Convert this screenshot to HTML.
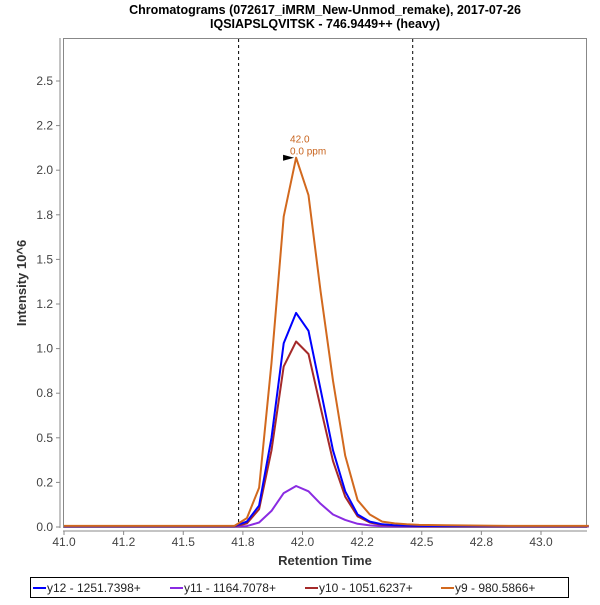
<!DOCTYPE html>
<html><head><meta charset="utf-8"><style>
body{margin:0;background:#fff;}
svg{font-family:"Liberation Sans","DejaVu Sans",sans-serif;}
</style></head><body>
<svg id="chart" width="600" height="600" xmlns="http://www.w3.org/2000/svg">
<rect width="600" height="600" fill="#fff"/>
<text x="325" y="14" text-anchor="middle" font-size="12.5" font-weight="bold">Chromatograms (072617_iMRM_New-Unmod_remake), 2017-07-26</text>
<text x="325" y="28" text-anchor="middle" font-size="12.5" font-weight="bold">IQSIAPSLQVITSK - 746.9449++ (heavy)</text>
<rect x="63.5" y="38.5" width="523" height="489" fill="#fff" stroke="#888" stroke-width="1"/>
<line x1="60" y1="38" x2="60" y2="528" stroke="#888"/>
<line x1="63" y1="531" x2="587" y2="531" stroke="#888"/>
<g id="yticks"></g><g id="xticks"></g>
<g id="markers"></g>
<g id="series"></g>
<text x="325" y="565" text-anchor="middle" font-size="13" font-weight="bold" fill="#333">Retention Time</text>
<text transform="translate(26,283) rotate(-90)" text-anchor="middle" font-size="13" font-weight="bold" fill="#333">Intensity 10^6</text>
<g>
<rect x="30.5" y="577.5" width="538" height="20" fill="#fff" stroke="#000"/>
<line x1="33" y1="588" x2="46" y2="588" stroke="#0000ff" stroke-width="2"/>
<text x="47" y="592" font-size="12" fill="#222">y12 - 1251.7398+</text>
<line x1="170" y1="588" x2="183" y2="588" stroke="#8a2be2" stroke-width="2"/>
<text x="184" y="592" font-size="12" fill="#222">y11 - 1164.7078+</text>
<line x1="305" y1="588" x2="318" y2="588" stroke="#a52a2a" stroke-width="2"/>
<text x="319" y="592" font-size="12" fill="#222">y10 - 1051.6237+</text>
<line x1="441" y1="588" x2="454" y2="588" stroke="#d2691e" stroke-width="2"/>
<text x="455" y="592" font-size="12" fill="#222">y9 - 980.5866+</text>
</g>
</svg>
<script>
const times=[41.0,41.715,41.767,41.818,41.870,41.921,41.973,42.025,42.076,42.128,42.179,42.231,42.282,42.334,42.386,42.437,42.489,42.6,42.8,43.2];
const y12=[0.005,0.005,0.03,0.12,0.5,1.03,1.2,1.1,0.77,0.43,0.2,0.07,0.03,0.015,0.01,0.008,0.006,0.005,0.005,0.005];
const y11=[0.003,0.003,0.005,0.025,0.09,0.19,0.23,0.2,0.13,0.07,0.04,0.018,0.009,0.004,0.003,0.003,0.003,0.003,0.003,0.003];
const y10=[0.004,0.004,0.02,0.1,0.43,0.9,1.04,0.97,0.67,0.37,0.17,0.06,0.025,0.012,0.008,0.006,0.005,0.004,0.004,0.004];
const y9=[0.006,0.006,0.05,0.22,0.92,1.74,2.07,1.86,1.32,0.82,0.40,0.15,0.07,0.03,0.02,0.015,0.012,0.01,0.007,0.006];
const xTickVals=[41.0,41.25,41.5,41.75,42.0,42.25,42.5,42.75,43.0];
const xTickLabels=["41.0","41.2","41.5","41.8","42.0","42.2","42.5","42.8","43.0"];
const yTickVals=[0,0.25,0.5,0.75,1.0,1.25,1.5,1.75,2.0,2.25,2.5];
const yTickLabels=["0.0","0.2","0.5","0.8","1.0","1.2","1.5","1.8","2.0","2.2","2.5"];
const boundaries=[41.73,42.46];
const peakTime=41.973, peakValue=2.07;
const NS="http://www.w3.org/2000/svg";
const X=t=>64+(t-41.0)*238.5;
const Y=v=>527-v*178.4;
function mk(tag,attrs,parent){const e=document.createElementNS(NS,tag);for(const k in attrs)e.setAttribute(k,attrs[k]);parent.appendChild(e);return e;}
const yt=document.getElementById('yticks');
yTickVals.forEach((v,i)=>{
  const l=mk('line',{x1:56,x2:60,y1:Y(v),y2:Y(v),stroke:'#888'},yt);
  
  
  const t=mk('text',{x:53,y:Y(v)+4,'text-anchor':'end','font-size':12,fill:'#444'},yt);
  
  
  t.textContent=yTickLabels[i];
});
const xt=document.getElementById('xticks');
xTickVals.forEach((v,i)=>{
  const l=mk('line',{x1:X(v),x2:X(v),y1:531,y2:535,stroke:'#888'},xt);
  
  
  const t=mk('text',{x:X(v),y:546,'text-anchor':'middle','font-size':12,fill:'#444'},xt);
  
  
  t.textContent=xTickLabels[i];
});
const mg=document.getElementById('markers');
boundaries.forEach(b=>{
  const l=mk('line',{x1:X(b)+0.5,x2:X(b)+0.5,y1:39,y2:527,stroke:'#000','stroke-dasharray':'3,3'},mg);
  
  
});
const sg=document.getElementById('series');
[[y11,'#8a2be2','series-y11'],[y10,'#a52a2a','series-y10'],[y12,'#0000ff','series-y12'],[y9,'#d2691e','series-y9']].forEach(([arr,c,n])=>{
  const p=mk('polyline',{points:arr.map((v,i)=>X(times[i]).toFixed(1)+','+Y(v).toFixed(1)).join(' '),fill:'none',stroke:c,'stroke-width':2,'stroke-linejoin':'round'},sg);
  
  
});
const px=X(peakTime), py=Y(peakValue);
const tri=mk('polygon',{points:`${px-13},${py-3} ${px-2},${py} ${px-13},${py+3}`,fill:'#000'},sg);


const a1=mk('text',{x:px-6,y:py-15,'font-size':10,fill:'#c8641e'},sg);


a1.textContent='42.0';
const a2=mk('text',{x:px-6,y:py-3,'font-size':10,fill:'#c8641e'},sg);


a2.textContent='0.0 ppm';
</script>
</body></html>
